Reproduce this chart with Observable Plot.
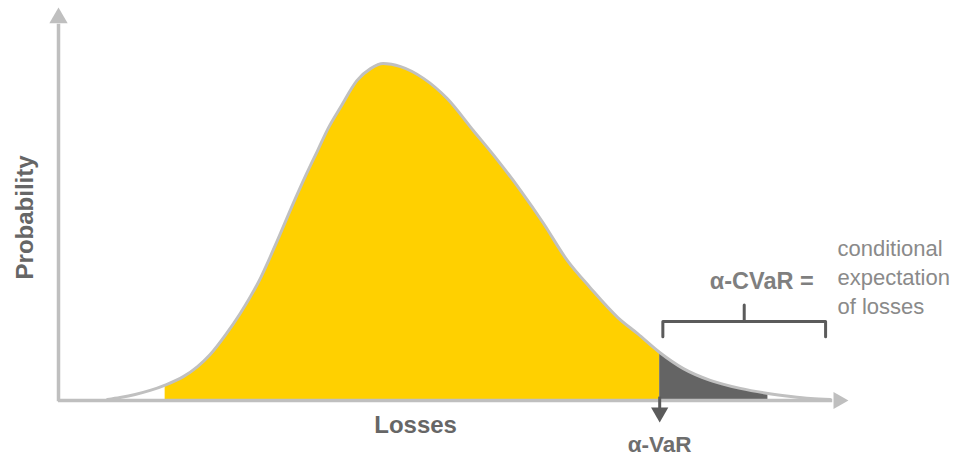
<!DOCTYPE html>
<html>
<head>
<meta charset="utf-8">
<script src="https://cdn.jsdelivr.net/npm/d3@7"></script>
<script src="https://cdn.jsdelivr.net/npm/@observablehq/plot@0.6"></script>
<style>
  html, body { margin: 0; padding: 0; background: #ffffff; }
  #chart svg { display: block; }
</style>
</head>
<body>
<div id="chart"></div>
<script>
// Loss distribution curve (arbitrary units)
const losses = [6.2, 7.8, 9.7, 11.6, 13.5, 15.8, 17.6, 19.2, 21.1, 23.0, 25.6, 27.7, 29.7, 31.3, 32.8, 34.2, 35.7, 37.8, 39.5, 41.1, 43.3, 46.2, 49.2, 52.5, 55.6, 58.5, 61.4, 64.4, 67.3, 70.8, 73.3, 76.1, 79.1, 82.5, 86.3, 89.8, 92.7, 95.2, 97.7];
const probability = [0.003, 0.009, 0.018, 0.030, 0.046, 0.071, 0.101, 0.137, 0.194, 0.259, 0.366, 0.476, 0.586, 0.670, 0.744, 0.813, 0.873, 0.953, 0.988, 1.003, 0.994, 0.959, 0.899, 0.804, 0.715, 0.625, 0.527, 0.417, 0.336, 0.247, 0.199, 0.143, 0.095, 0.060, 0.036, 0.021, 0.012, 0.006, 0.003];

// Key values on the loss axis
const fillStart = 13.5;   // start of the shaded (yellow) body
const VaR = 76.1;         // alpha-VaR threshold
const tailEnd = 89.8;     // end of shaded tail
const axisMaxX = 100;
const axisMaxY = 1.17;

// Labels
const labels = {
  yTitle: "Probability",
  xTitle: "Losses",
  varLabel: "α-VaR",
  cvarLabel: "α-CVaR =",
  cvarDesc: "conditional\nexpectation\nof losses"
};

const pts = losses.map((x, i) => ({x, y: probability[i]}));
const body = pts.filter(d => d.x >= fillStart && d.x <= VaR);
const tail = pts.filter(d => d.x >= VaR && d.x <= tailEnd);

// bracket over the tail region
const bx1 = VaR + 0.4, bx2 = 97.1, byb = 0.19, byt = 0.235, bytick = 0.283;
const bracket = [[bx1, byb], [bx1, byt], [bx2, byt], [bx2, byb]];

const font = "'Liberation Sans', Arial, Helvetica, sans-serif";
const axisColor = "#bfbfbf";
const darkColor = "#5b5b5b";

const chart = Plot.plot({
  width: 961,
  height: 456,
  marginLeft: 58,
  marginRight: 113,
  marginTop: 7,
  marginBottom: 56,
  x: {domain: [0, axisMaxX], axis: null},
  y: {domain: [0, axisMaxY], axis: null},
  style: {background: "#ffffff", fontFamily: font, overflow: "visible"},
  marks: [
    Plot.areaY(body, {x: "x", y: "y", fill: "#ffd000", curve: "monotone-x"}),
    Plot.areaY(tail, {x: "x", y: "y", fill: "#646464", curve: "monotone-x"}),
    Plot.line(pts, {x: "x", y: "y", stroke: "#c0c0c0", strokeWidth: 3, curve: "monotone-x"}),
    // axes with arrowheads
    Plot.ruleY([0], {x1: 0, x2: 98, stroke: axisColor, strokeWidth: 3.5}),
    Plot.ruleX([0], {y1: -0.004, y2: 1.12, stroke: axisColor, strokeWidth: 3.5}),
    Plot.dot([{x: axisMaxX, y: 0}], {x: "x", y: "y", symbol: "triangle", r: 6.4, rotate: 90, dx: -10, fill: axisColor, stroke: null}),
    Plot.dot([{x: 0, y: axisMaxY}], {x: "x", y: "y", symbol: "triangle", r: 6.8, dy: 10.5, fill: axisColor, stroke: null}),
    // VaR arrow
    Plot.ruleX([VaR], {y1: 0.01, y2: -0.028, stroke: darkColor, strokeWidth: 3}),
    Plot.dot([{x: VaR, y: 0}], {x: "x", y: "y", symbol: "triangle", r: 6.4, rotate: 180, dy: 12, fill: darkColor, stroke: null}),
    // CVaR bracket
    Plot.line(bracket, {x: d => d[0], y: d => d[1], stroke: darkColor, strokeWidth: 3, strokeLinejoin: "round", strokeLinecap: "round"}),
    Plot.ruleX([(bx1 + bx2) / 2], {y1: byt, y2: bytick, stroke: darkColor, strokeWidth: 3, strokeLinecap: "round"}),
    // texts
    Plot.text([labels.yTitle], {x: 0, y: 0.545, dx: -33, rotate: -90, fontSize: 24, fontWeight: "bold", fill: "#666666", fontFamily: font}),
    Plot.text([labels.xTitle], {x: 45.2, y: 0, dy: 25, fontSize: 24, fontWeight: "bold", fill: "#666666", fontFamily: font}),
    Plot.text([labels.varLabel], {x: VaR, y: 0, dy: 44, fontSize: 22.5, fontWeight: "bold", fill: "#6e6e6e", fontFamily: font}),
    Plot.text([labels.cvarLabel], {x: 95.6, y: 0.354, textAnchor: "end", fontSize: 23.5, fontWeight: "bold", fill: "#7f7f7f", fontFamily: font}),
    Plot.text([labels.cvarDesc], {x: 98.6, y: 0.493, textAnchor: "start", lineAnchor: "top", lineHeight: 1.32, fontSize: 22, fill: "#8a8a8a", fontFamily: font})
  ]
});
document.getElementById("chart").append(chart);
</script>
</body>
</html>
